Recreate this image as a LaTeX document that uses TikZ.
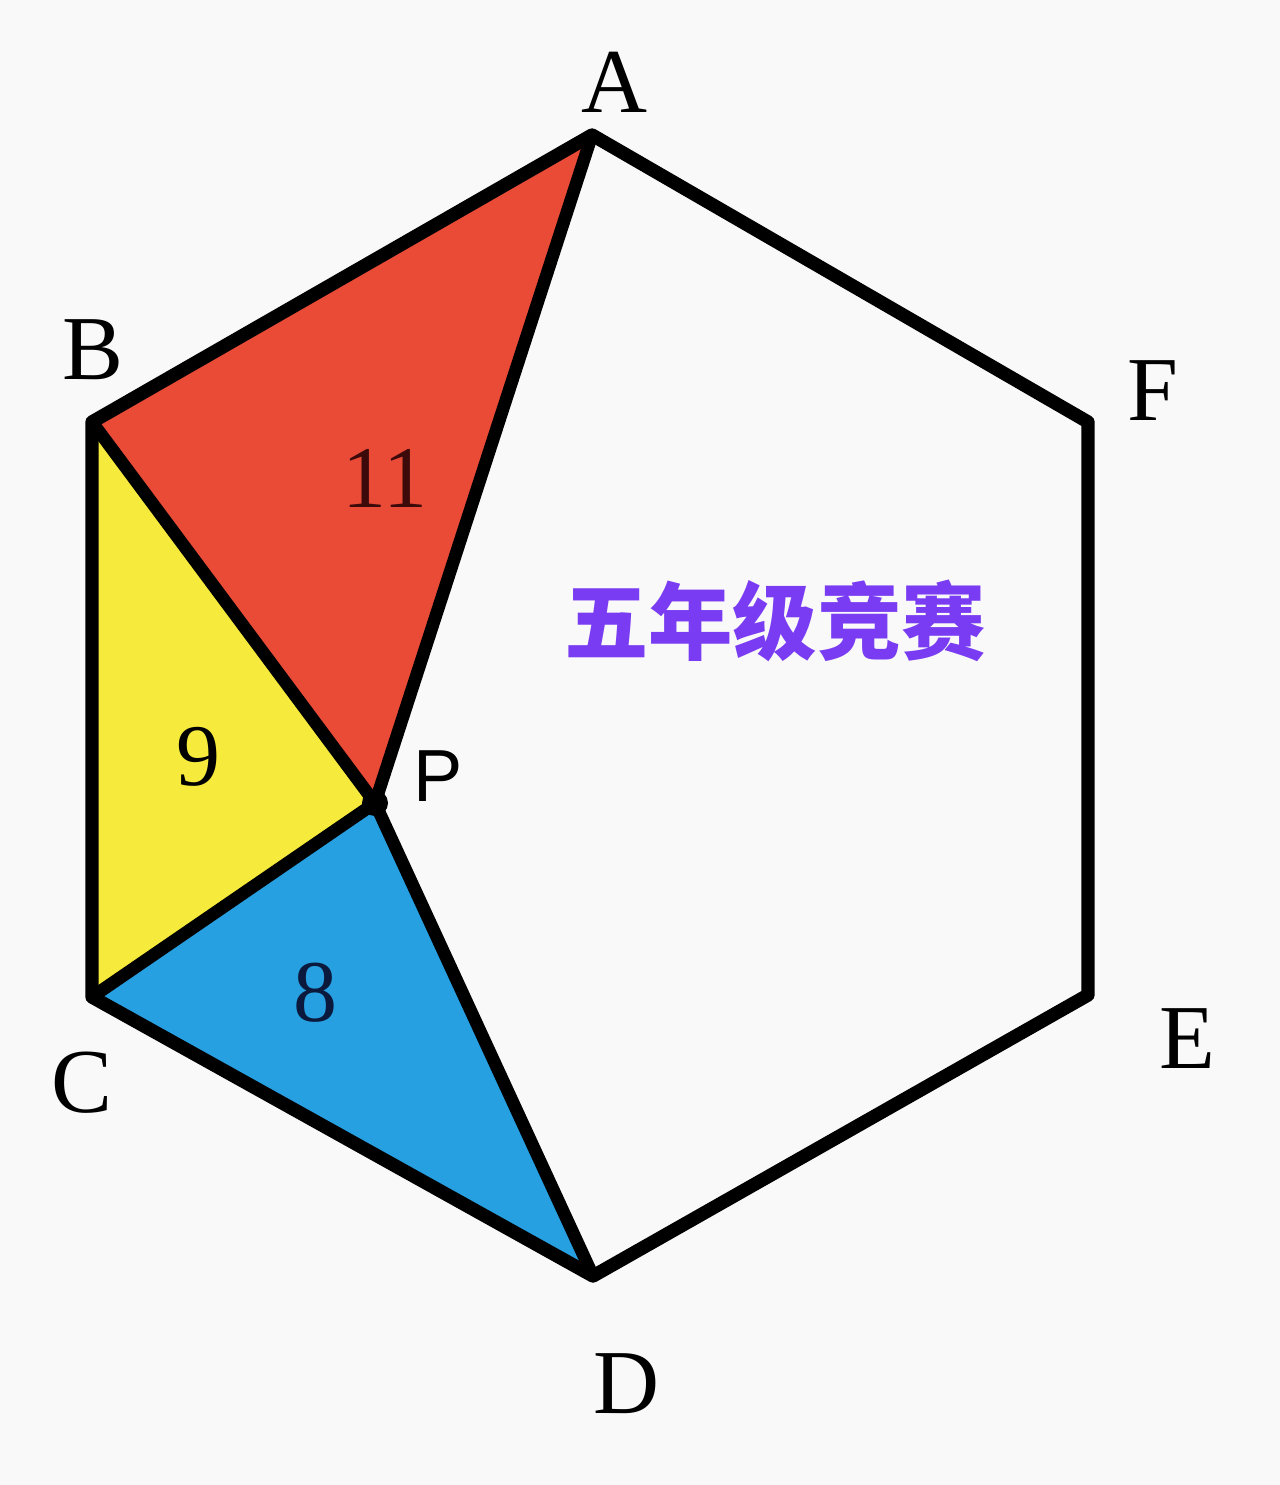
\documentclass[tikz,border=0pt]{standalone}
\usepackage{fontspec}
\setmainfont{Liberation Serif}
\newfontfamily\cjk{Noto Sans CJK SC}
\newfontfamily\lab{Liberation Sans}
\definecolor{redpart}{HTML}{E94B37}
\definecolor{yellowpart}{HTML}{F6EB3C}
\definecolor{bluepart}{HTML}{27A0E2}
\definecolor{titlepurple}{HTML}{7A3CF2}
\definecolor{paper}{HTML}{F9F9F9}
\begin{document}
\begin{tikzpicture}[x=0.01cm,y=-0.01cm]
\fill[paper] (0,0) rectangle (1280,1485);
\useasboundingbox (0,0) rectangle (1280,1485);
\coordinate (A) at (592,135);
\coordinate (B) at (92,422);
\coordinate (C) at (92,997);
\coordinate (D) at (593,1276);
\coordinate (E) at (1088,995);
\coordinate (F) at (1088,422);
\coordinate (P) at (375,803);
\fill[redpart] (A) -- (B) -- (P) -- cycle;
\fill[yellowpart] (B) -- (C) -- (P) -- cycle;
\fill[bluepart] (C) -- (D) -- (P) -- cycle;
\path[draw,line width=3.8pt,line join=round] (A) -- (B) -- (C) -- (D) -- (E) -- (F) -- cycle;
\path[draw,line width=3.6pt,-] (P) -- (A);
\path[draw,line width=3.6pt,-] (P) -- (B);
\path[draw,line width=3.6pt,-] (P) -- (C);
\path[draw,line width=3.6pt,-] (P) -- (D);
\fill (P) circle (13);
\node[font=\fontsize{26}{26}\selectfont] (a) at (615,82) {A};
\node[font=\fontsize{26}{26}\selectfont] (b) at (93,350) {B};
\node[font=\fontsize{26}{26}\selectfont] (c) at (82,1083) {C};
\node[font=\fontsize{26}{26}\selectfont] (d) at (627,1384) {D};
\node[font=\fontsize{26}{26}\selectfont] (e) at (1187,1039) {E};
\node[font=\fontsize{26}{26}\selectfont] (f) at (1153,391) {F};
\node[font=\lab\fontsize{21}{21}\selectfont] (p) at (438,776) {P};
\node[font=\fontsize{25}{25}\selectfont,text={rgb,255:red,60;green,10;blue,10}] (n11) at (385,478) {11};
\node[font=\fontsize{25}{25}\selectfont] (n9) at (198,757) {9};
\node[font=\fontsize{25}{25}\selectfont,text={rgb,255:red,10;green,25;blue,60}] (n8) at (315,993) {8};
\node[font=\cjk\bfseries\fontsize{24}{24}\selectfont,text=titlepurple] (title) at (775,621) {五年级竞赛};
\end{tikzpicture}
\end{document}
